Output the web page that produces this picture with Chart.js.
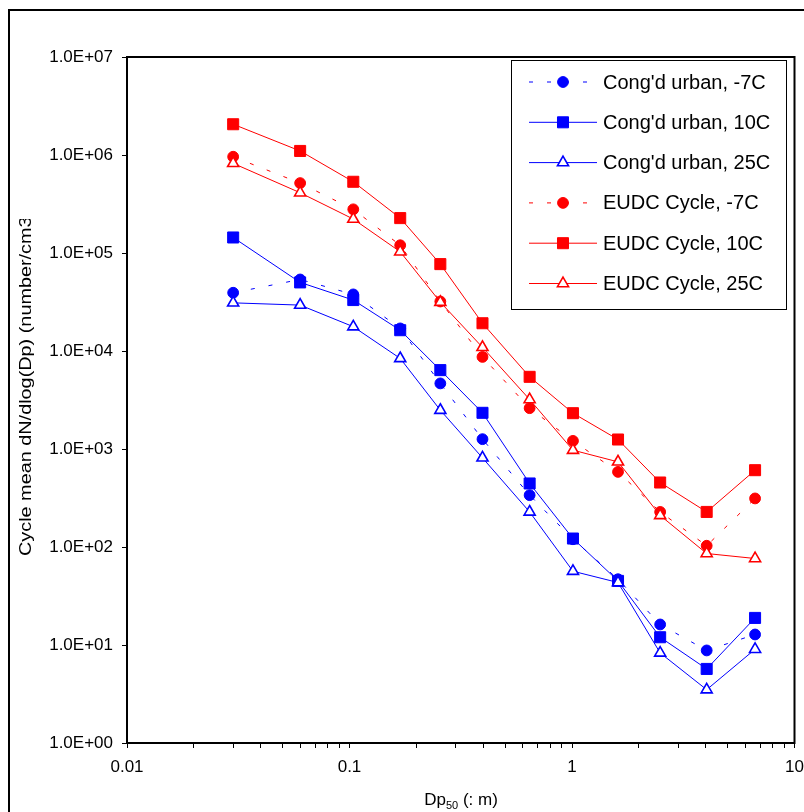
<!DOCTYPE html>
<html>
<head>
<meta charset="utf-8">
<script src="https://cdn.jsdelivr.net/npm/chart.js@4.4.1/dist/chart.umd.min.js"></script>
<style>
  body { margin: 0; background: #fff; }
  #wrap { width: 804px; height: 812px; }
</style>
</head>
<body>
<div id="wrap"><canvas id="chart" width="804" height="812"></canvas></div>
<script>
// particle size (Dp50, um)
const dp50 = [0.030, 0.060, 0.104, 0.169, 0.256, 0.396, 0.645, 1.01, 1.61, 2.49, 4.03, 6.65];

// cycle mean dN/dlog(Dp)
const congUrbanM7 = [39300, 53700, 37800, 17000, 4670, 1260, 338, 120, 46.9, 16.2, 8.8, 12.8];
const congUrban10 = [144000, 50100, 33100, 16300, 6380, 2340, 445, 122, 45.1, 12.0, 5.7, 18.9];
const congUrban25 = [31000, 29400, 17700, 8400, 2490, 812, 228, 56.6, 43.4, 8.3, 3.5, 9.05];
const eudcM7 = [960000, 517000, 279000, 120000, 32000, 8700, 2610, 1210, 584, 228, 103, 313];
const eudc10 = [2060000, 1100000, 533000, 227000, 77000, 19200, 5450, 2320, 1250, 455, 228, 608];
const eudc25 = [822000, 412000, 222000, 103000, 31500, 10900, 3200, 973, 739, 210, 85.8, 76.3];

const seriesLabels = ["Cong'd urban, -7C", "Cong'd urban, 10C", "Cong'd urban, 25C",
                      "EUDC Cycle, -7C", "EUDC Cycle, 10C", "EUDC Cycle, 25C"];

const xMajorTicks = [0.01, 0.1, 1, 10];
const xTickLabels = ['0.01', '0.1', '1', '10'];
const yTicks = [1, 10, 100, 1000, 1e4, 1e5, 1e6, 1e7];
const yTickLabels = ['1.0E+00', '1.0E+01', '1.0E+02', '1.0E+03', '1.0E+04', '1.0E+05', '1.0E+06', '1.0E+07'];

// minor tick marks between decades on the x axis
const xAllTicks = [];
xMajorTicks.forEach((m, i) => {
    xAllTicks.push(m);
    if (i < xMajorTicks.length - 1) {
        for (let k = 2; k <= 9; k++) xAllTicks.push(m * k);
    }
});

const FONT = "'Liberation Sans', Arial, sans-serif";
const BLUE = '#0000ff';
const RED = '#ff0000';

function makeSet(label, values, color, style, dashed) {
    const tri = style === 'triangle';
    return {
        label: label,
        data: values.map((v, i) => ({ x: dp50[i], y: v })),
        showLine: true,
        borderColor: color,
        borderWidth: 1,
        borderDash: dashed ? [4, 14] : [],
        pointStyle: style,
        pointRadius: style === 'rect' ? 7.8 : (tri ? 6.4 : 5.4),
        pointBackgroundColor: tri ? '#ffffff' : color,
        pointBorderColor: color,
        pointBorderWidth: tri ? 1.6 : 1,
        fill: false
    };
}

const datasets = [
    makeSet(seriesLabels[0], congUrbanM7, BLUE, 'circle', true),
    makeSet(seriesLabels[1], congUrban10, BLUE, 'rect', false),
    makeSet(seriesLabels[2], congUrban25, BLUE, 'triangle', false),
    makeSet(seriesLabels[3], eudcM7, RED, 'circle', true),
    makeSet(seriesLabels[4], eudc10, RED, 'rect', false),
    makeSet(seriesLabels[5], eudc25, RED, 'triangle', false)
];
// later series drawn on top
datasets.forEach((d, i) => { d.order = datasets.length - i; });

const decorPlugin = {
    id: 'decor',
    beforeDraw(chart) {
        const ctx = chart.ctx;
        ctx.save();
        ctx.fillStyle = '#fff';
        ctx.fillRect(0, 0, chart.width, chart.height);
        // outer chart border
        ctx.strokeStyle = '#000';
        ctx.lineWidth = 2;
        ctx.beginPath();
        ctx.moveTo(9, chart.height);
        ctx.lineTo(9, 10);
        ctx.lineTo(chart.width, 10);
        ctx.stroke();
        ctx.restore();
    },
    beforeDatasetsDraw(chart) {
        const a = chart.chartArea;
        const ctx = chart.ctx;
        ctx.save();
        ctx.strokeStyle = '#000';
        ctx.lineWidth = 2;
        ctx.strokeRect(a.left, a.top, a.right - a.left, a.bottom - a.top);
        ctx.restore();
    },
    afterDraw(chart) {
        const ctx = chart.ctx;
        ctx.save();

        // y axis title, stretched along its length and cut off at the top like the original
        ctx.save();
        ctx.beginPath();
        ctx.rect(0, 219, 120, 593);
        ctx.clip();
        ctx.translate(31, 556);
        ctx.rotate(-Math.PI / 2);
        ctx.scale(1.24, 1);
        ctx.fillStyle = '#000';
        ctx.font = '16px ' + FONT;
        ctx.textBaseline = 'alphabetic';
        ctx.textAlign = 'left';
        ctx.fillText('Cycle mean dN/dlog(Dp) (number/cm3)', 0, 0);
        ctx.restore();

        // x axis title: Dp with subscript 50
        ctx.fillStyle = '#000';
        ctx.textBaseline = 'alphabetic';
        ctx.textAlign = 'left';
        ctx.font = '17px ' + FONT;
        const w1 = ctx.measureText('Dp').width;
        const w3 = ctx.measureText(' (: m)').width;
        ctx.font = '11px ' + FONT;
        const w2 = ctx.measureText('50').width;
        let x0 = 461 - (w1 + w2 + w3) / 2;
        ctx.font = '17px ' + FONT;
        ctx.fillText('Dp', x0, 805);
        ctx.font = '11px ' + FONT;
        ctx.fillText('50', x0 + w1, 809);
        ctx.font = '17px ' + FONT;
        ctx.fillText(' (: m)', x0 + w1 + w2, 805);

        // legend box
        ctx.fillStyle = '#fff';
        ctx.fillRect(511, 60, 276, 249);
        ctx.strokeStyle = '#000';
        ctx.lineWidth = 1;
        ctx.strokeRect(511.5, 60.5, 275, 249);

        chart.data.datasets.forEach((d, i) => {
            const y = 82 + i * 40.3;
            ctx.strokeStyle = d.borderColor;
            ctx.lineWidth = 1;
            ctx.setLineDash(d.borderDash);
            ctx.beginPath();
            ctx.moveTo(529, y);
            ctx.lineTo(597, y);
            ctx.stroke();
            ctx.setLineDash([]);
            ctx.fillStyle = d.pointBackgroundColor;
            ctx.strokeStyle = d.pointBorderColor;
            ctx.lineWidth = d.pointBorderWidth;
            Chart.helpers.drawPoint(ctx, {
                pointStyle: d.pointStyle, rotation: 0,
                radius: d.pointRadius, borderWidth: d.pointBorderWidth
            }, 563, y);
            ctx.fillStyle = '#000';
            ctx.font = '20px ' + FONT;
            ctx.textBaseline = 'middle';
            ctx.fillText(d.label, 603, y + 1);
        });
        ctx.restore();
    }
};

new Chart(document.getElementById('chart'), {
    type: 'scatter',
    data: { datasets: datasets },
    options: {
        responsive: false,
        animation: false,
        events: [],
        layout: { padding: { top: 57, right: 0, left: 0, bottom: 0 } },
        plugins: { legend: { display: false }, tooltip: { enabled: false } },
        scales: {
            x: {
                type: 'logarithmic',
                min: 0.01,
                max: 10,
                border: { display: false },
                grid: { drawOnChartArea: false, drawTicks: true, tickLength: 5, color: '#000', lineWidth: 1 },
                ticks: {
                    autoSkip: false,
                    maxRotation: 0,
                    padding: 9,
                    color: '#000',
                    font: { size: 17, family: FONT },
                    callback: (v) => {
                        const i = xMajorTicks.indexOf(v);
                        return i >= 0 ? xTickLabels[i] : '';
                    }
                },
                afterBuildTicks: (s) => { s.ticks = xAllTicks.map(v => ({ value: v })); },
                afterFit: (s) => { s.height = 69; s.paddingRight = 9.5; s.paddingLeft = 0; }
            },
            y: {
                type: 'logarithmic',
                min: 1,
                max: 1e7,
                border: { display: false },
                grid: { drawOnChartArea: false, drawTicks: true, tickLength: 5, color: '#000', lineWidth: 1 },
                ticks: {
                    autoSkip: false,
                    padding: 9,
                    color: '#000',
                    font: { size: 17, family: FONT },
                    callback: (v) => {
                        const i = yTicks.indexOf(v);
                        return i >= 0 ? yTickLabels[i] : '';
                    }
                },
                afterBuildTicks: (s) => { s.ticks = yTicks.map(v => ({ value: v })); },
                afterFit: (s) => { s.width = 127; }
            }
        }
    },
    plugins: [decorPlugin]
});
</script>
</body>
</html>
